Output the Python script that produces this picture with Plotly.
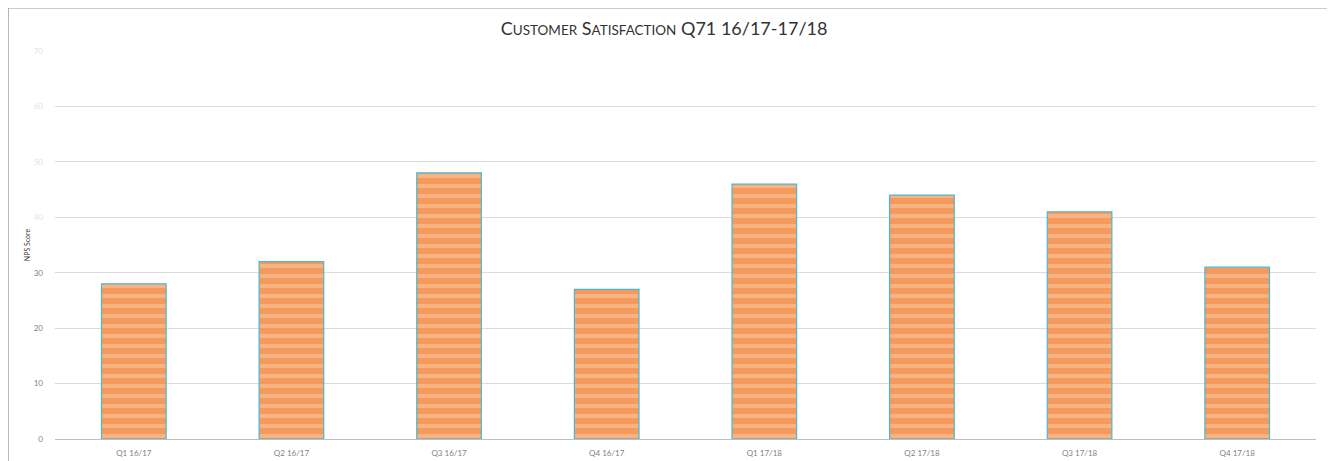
import plotly.graph_objects as go

quarters = ["Q1 16/17", "Q2 16/17", "Q3 16/17", "Q4 16/17",
            "Q1 17/18", "Q2 17/18", "Q3 17/18", "Q4 17/18"]
nps = [28, 32, 48, 27, 46, 44, 41, 31]
y_ticks = [0, 10, 20, 30, 40, 50, 60, 70]


def _tick(v):
    # upper labels are washed out in the source
    if v >= 40:
        return f'<span style="color:#e3e3e3">{v}</span>'
    return str(v)


def _small_caps(txt, small=13.5):
    out = []
    for w in txt.split(" "):
        if w[:1].isalpha() and w[1:].isalpha():
            out.append(f"{w[0]}<span style='font-size:{small}px'>{w[1:].upper()}</span>")
        else:
            out.append(w)
    return " ".join(out)


fig = go.Figure()
fig.add_trace(go.Bar(
    x=quarters, y=nps,
    marker=dict(color="#f59c60",
                line=dict(color="#4bb8d0", width=1.2),
                pattern=dict(shape="-", fgcolor="#f9cba8", bgcolor="#f59a5c",
                             size=10, solidity=0.4)),
    hovertemplate="%{x}: %{y}<extra></extra>",
))

# grey frame round the chart (page body adds an 8px offset)
fig.add_shape(type="rect", xref="paper", yref="paper",
              x0=-0.0375, x1=1.0135, y0=-0.2, y1=1.112,
              line=dict(color="#9a9a9a", width=2), layer="below")

fig.update_layout(
    width=1327, height=453,
    margin=dict(l=47, r=19, t=43, b=22),
    paper_bgcolor="white", plot_bgcolor="white",
    font=dict(family="Lato, Open Sans, sans-serif", color="#595959", size=8),
    bargap=0.59,
    showlegend=False,
    title=dict(text=_small_caps("Customer Satisfaction Q71 16/17-17/18"),
               xref="paper", x=0.483, xanchor="center",
               y=0.954, yanchor="middle",
               font=dict(size=18, color="#333333", family="Lato, Open Sans, sans-serif")),
)
fig.update_xaxes(showgrid=False, showline=True, linecolor="#bfbfbf", linewidth=1,
                 ticks="", automargin=False, ticklabelstandoff=6,
                 tickfont=dict(size=8, color="#7f7f7f"))
fig.update_yaxes(range=[0, 70], tickvals=y_ticks, ticktext=[_tick(v) for v in y_ticks],
                 showgrid=True, gridcolor="#dcdcdc", gridwidth=1,
                 zeroline=False, showline=False, ticks="",
                 tickfont=dict(size=8, color="#7f7f7f"), ticklabelstandoff=11,
                 title=dict(text="NPS Score", font=dict(size=7, color="#404040"), standoff=2))

fig.write_html("out.html")
